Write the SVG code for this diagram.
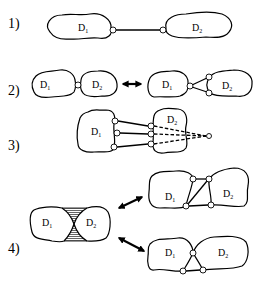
<svg xmlns="http://www.w3.org/2000/svg" width="257" height="281" viewBox="0 0 257 281">
<style>
.blob{fill:none;stroke:#000;stroke-width:1.2;stroke-linejoin:round}
.port{fill:#fff;stroke:#000;stroke-width:0.9}
.edge{stroke:#000;stroke-width:1.3;fill:none}
.dash{stroke:#000;stroke-width:1.3;fill:none;stroke-dasharray:3.5 2}
.lbl{font-family:"Liberation Serif",serif;font-size:14px;fill:#000}
.d{font-family:"Liberation Serif",serif;font-size:10px;fill:#000}
.s{font-size:6px}
.arr{stroke:#000;stroke-width:2.2;fill:none;marker-start:url(#ah);marker-end:url(#ah)}
.hatch{fill:url(#hp);stroke:none}
</style>
<defs>
<marker id="ah" viewBox="0 0 10 10" refX="8" refY="5" markerWidth="3.2" markerHeight="3.2" orient="auto-start-reverse" markerUnits="strokeWidth">
<path d="M0,0 L10,5 L0,10 Z" fill="#000"/>
</marker>
<pattern id="hp" width="4" height="2" patternUnits="userSpaceOnUse">
<rect width="4" height="2" fill="#fff"/>
<line x1="0" y1="0.5" x2="4" y2="0.5" stroke="#666" stroke-width="1"/>
</pattern>
</defs>

<g id="labels">
<text class="lbl" x="8" y="28">1)</text>
<text class="lbl" x="8" y="95">2)</text>
<text class="lbl" x="8" y="150">3)</text>
<text class="lbl" x="8" y="253">4)</text>
</g>

<g id="connectors">
<line class="edge" x1="116" y1="30" x2="160" y2="30"/>
<line class="edge" x1="192" y1="85" x2="207" y2="78"/>
<line class="edge" x1="192" y1="87" x2="207" y2="92"/>
<line class="arr" x1="123" y1="84" x2="141" y2="84"/>
<line class="edge" x1="118" y1="121" x2="148" y2="126"/>
<line class="edge" x1="120" y1="133" x2="148" y2="134"/>
<line class="edge" x1="117" y1="147" x2="148" y2="144"/>
<line class="dash" x1="154" y1="126" x2="206" y2="136"/>
<line class="dash" x1="154" y1="134" x2="206" y2="136"/>
<line class="dash" x1="154" y1="144" x2="206" y2="136"/>
<line class="arr" x1="119" y1="208" x2="142" y2="197"/>
<line class="arr" x1="119" y1="238" x2="144" y2="251"/>
<line class="edge" x1="196" y1="179" x2="206" y2="179"/>
<line class="edge" x1="188" y1="204" x2="207" y2="181"/>
<line class="edge" x1="189" y1="206" x2="208" y2="205"/>
<line class="edge" x1="186" y1="271" x2="200" y2="270"/>
</g>

<g id="row1-D1">
<path class="blob" d="M50,32 C44,25 50,15 62,15 C72,13 80,16 90,14 C102,12 112,20 111,28 C113,34 108,40 98,38 C88,37 80,40 70,39 C60,40 54,38 50,32 Z"/>
<text class="d" x="78" y="31">D<tspan class="s" dy="1.5">1</tspan></text>
<circle class="port" cx="113" cy="30" r="3"/>
</g>
<g id="row1-D2">
<path class="blob" d="M166,28 C164,18 176,14 186,14 C198,12 212,11 222,14 C232,18 234,26 229,32 C225,38 216,38 206,37 C195,38 180,39 172,36 C167,34 165,32 166,28 Z"/>
<text class="d" x="192" y="31">D<tspan class="s" dy="1.5">2</tspan></text>
<circle class="port" cx="163" cy="30" r="3"/>
</g>

<g id="row2-left-D1">
<path class="blob" d="M36,76 C42,70 52,72 60,70 C68,69 74,74 75,80 C76,84 76,88 74,92 C70,97 60,96 52,97 C44,98 36,97 34,92 C31,86 32,80 36,76 Z"/>
<text class="d" x="40" y="88">D<tspan class="s" dy="1.5">1</tspan></text>
</g>
<g id="row2-left-D2">
<path class="blob" d="M81,80 C82,73 90,71 98,71 C108,70 116,75 117,84 C118,92 112,97 102,96 C94,97 86,97 83,93 C80,90 80,86 81,80 Z"/>
<text class="d" x="92" y="88">D<tspan class="s" dy="1.5">2</tspan></text>
<circle class="port" cx="78" cy="85" r="3"/>
</g>
<g id="row2-right-D1">
<path class="blob" d="M150,78 C154,71 164,72 172,71 C182,70 188,76 188,82 C189,88 187,94 180,96 C172,98 162,96 154,97 C148,96 146,86 150,78 Z"/>
<text class="d" x="162" y="88">D<tspan class="s" dy="1.5">1</tspan></text>
<circle class="port" cx="190" cy="86" r="3"/>
</g>
<g id="row2-right-D2">
<path class="blob" d="M210,77 C214,71 224,71 234,70 C246,70 253,76 252,84 C252,92 246,98 236,96 C226,96 216,97 210,93 C206,88 206,82 210,77 Z"/>
<text class="d" x="222" y="89">D<tspan class="s" dy="1.5">2</tspan></text>
<circle class="port" cx="209" cy="77" r="3"/>
<circle class="port" cx="209" cy="93" r="3"/>
</g>

<g id="row3-D1">
<path class="blob" d="M88,112 C94,108 100,111 106,110 C114,110 116,116 114,124 C113,132 116,140 114,148 C112,154 102,151 94,152 C86,153 78,150 78,144 C76,134 78,124 80,118 C82,114 84,113 88,112 Z"/>
<text class="d" x="91" y="135">D<tspan class="s" dy="1.5">1</tspan></text>
<circle class="port" cx="115" cy="121" r="3"/>
<circle class="port" cx="117" cy="133" r="3"/>
<circle class="port" cx="114" cy="147" r="3"/>
</g>
<g id="row3-D2">
<path class="blob" d="M160,110 C166,107 172,109 178,109 C186,110 188,118 186,126 C184,134 189,142 186,148 C182,154 172,151 164,153 C156,154 152,150 153,142 C154,134 152,124 154,116 C155,112 157,111 160,110 Z"/>
<text class="d" x="167" y="123">D<tspan class="s" dy="1.5">2</tspan></text>
<circle class="port" cx="151" cy="126" r="3"/>
<circle class="port" cx="151" cy="134" r="3"/>
<circle class="port" cx="151" cy="144" r="3"/>
</g>
<g id="row3-end">
<circle class="port" cx="209" cy="136" r="2.5"/>
</g>

<g id="row4-merged">
<path class="hatch" d="M62,208 L87,208 C80,212 76,218 74,224 C72,218 68,212 62,208 Z"/>
<path class="hatch" d="M74,224 C76,230 80,237 87,241 L64,241 C69,236 72,230 74,224 Z"/>
<line x1="62" y1="208" x2="87" y2="208" stroke="#333" stroke-width="1"/>
<line x1="64" y1="241" x2="87" y2="241" stroke="#333" stroke-width="1"/>
<path class="blob" d="M62,208 C52,206 40,207 34,210 C28,214 30,224 32,232 C34,240 44,239 52,241 C58,242 62,242 64,241 C69,236 72,230 74,224 C72,218 68,212 62,208 Z"/>
<path class="blob" d="M87,208 C95,206 104,206 108,212 C112,220 110,234 106,238 C100,242 92,241 87,241 C80,237 76,230 74,224 C76,218 80,212 87,208 Z"/>
<text class="d" x="42" y="226">D<tspan class="s" dy="1.5">1</tspan></text>
<text class="d" x="86" y="226">D<tspan class="s" dy="1.5">2</tspan></text>
</g>

<g id="row4-top-D1">
<path class="blob" d="M152,176 C158,170 168,172 176,171 C186,170 193,174 193,179 C192,188 188,196 186,206 C180,210 170,207 160,208 C150,208 148,200 149,192 C150,186 148,180 152,176 Z"/>
<text class="d" x="165" y="200">D<tspan class="s" dy="1.5">1</tspan></text>
<circle class="port" cx="193" cy="179" r="3"/>
<circle class="port" cx="186" cy="206" r="3"/>
</g>
<g id="row4-top-D2">
<path class="blob" d="M209,179 C214,172 224,169 234,168 C246,168 250,176 248,186 C246,194 250,202 244,206 C236,208 224,204 211,205 C212,196 208,188 209,179 Z"/>
<text class="d" x="223" y="197">D<tspan class="s" dy="1.5">2</tspan></text>
<circle class="port" cx="209" cy="179" r="3"/>
<circle class="port" cx="211" cy="205" r="3"/>
</g>

<g id="row4-bottom-D1">
<path class="blob" d="M150,244 C156,237 168,240 178,238 C188,237 193,246 193,253 C190,260 186,266 183,271 C174,272 162,268 154,270 C148,271 147,262 148,256 C149,250 147,248 150,244 Z"/>
<text class="d" x="165" y="256">D<tspan class="s" dy="1.5">1</tspan></text>
<circle class="port" cx="183" cy="271" r="3"/>
</g>
<g id="row4-bottom-D2">
<path class="blob" d="M193,253 C196,244 204,238 214,237 C226,236 240,235 246,242 C250,250 248,262 242,266 C232,270 216,268 203,270 C200,264 196,258 193,253 Z"/>
<text class="d" x="218" y="256">D<tspan class="s" dy="1.5">2</tspan></text>
<circle class="port" cx="193" cy="253" r="3"/>
<circle class="port" cx="203" cy="270" r="3"/>
</g>
</svg>
